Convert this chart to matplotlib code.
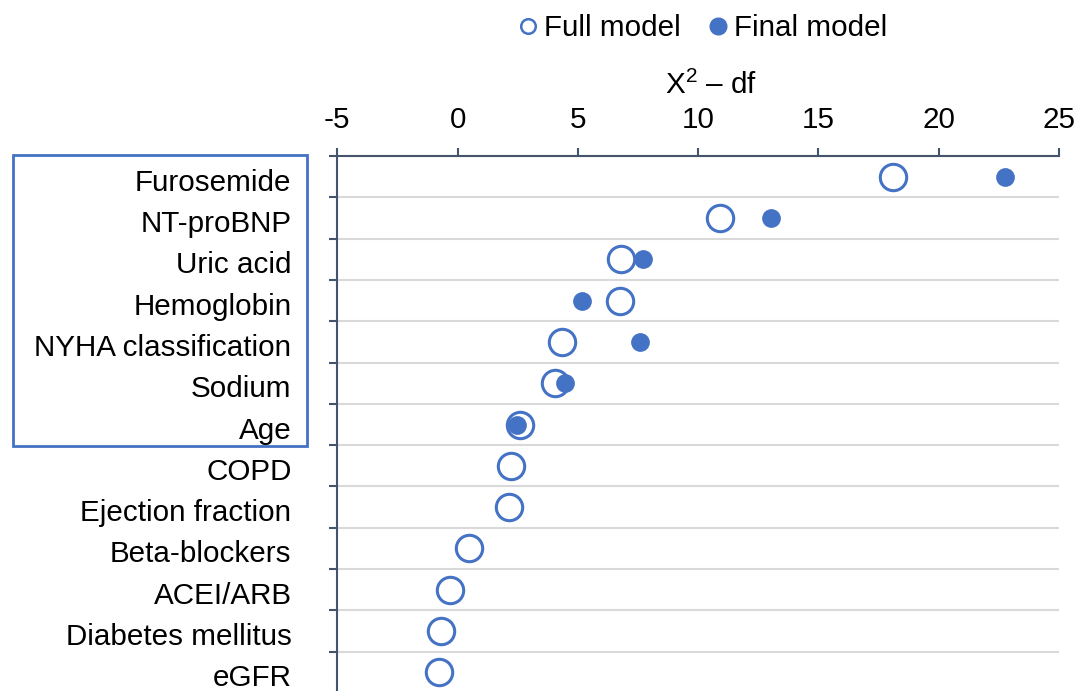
import matplotlib
matplotlib.use("Agg")
import matplotlib.pyplot as plt
import matplotlib.transforms as mtransforms
from matplotlib.lines import Line2D
from matplotlib.patches import Rectangle
import numpy as np

plt.rcParams['font.family'] = ['Liberation Sans', 'DejaVu Sans']
plt.rcParams['mathtext.fontset'] = 'custom'
plt.rcParams['mathtext.rm'] = 'Liberation Sans'

categories = ["Furosemide", "NT-proBNP", "Uric acid", "Hemoglobin", "NYHA classification",
              "Sodium", "Age", "COPD", "Ejection fraction", "Beta-blockers", "ACEI/ARB",
              "Diabetes mellitus", "eGFR"]
full_model = [18.1, 10.92, 6.78, 6.74, 4.36, 4.03, 2.6, 2.24, 2.14, 0.47, -0.32, -0.67, -0.78]
final_categories = ["Furosemide", "NT-proBNP", "Uric acid", "Hemoglobin", "NYHA classification",
                    "Sodium", "Age"]
final_model = [22.76, 13.03, 7.72, 5.16, 7.58, 4.45, 2.45]
x_ticks = [-5, 0, 5, 10, 15, 20, 25]

W, H = 1089, 691
fig = plt.figure(figsize=(W / 100, H / 100), dpi=100)
ax_left, ax_right, ax_top, ax_bottom = 337.3, 1059, 156, 693
ax = fig.add_axes([ax_left / W, 1 - ax_bottom / H, (ax_right - ax_left) / W, (ax_bottom - ax_top) / H])

blue = "#4472C4"
axis_col = "#44546A"
n = len(categories)
y_full = np.arange(n)
y_final = [categories.index(c) for c in final_categories]

ax.scatter(full_model, y_full, s=19**2, facecolor="white", edgecolor=blue, linewidth=2.2, zorder=3)
ax.scatter(final_model, y_final, s=13.5**2, facecolor=blue, edgecolor=blue, linewidth=0, zorder=4)

ax.set_xlim(-5, 25)
ax.set_ylim(n - 0.5, -0.5)
ax.xaxis.tick_top()
ax.xaxis.set_label_position("top")
ax.set_xticks(x_ticks)
ax.set_xticklabels([str(t) for t in x_ticks])
ax.tick_params(axis="x", direction="out", length=6, width=1.5, color=axis_col,
               labelsize=21.3, pad=10)

ax.set_yticks(y_full)
ax.set_yticklabels(categories)
ax.tick_params(axis="y", which="major", length=0, labelsize=21.3, pad=33)
offset = mtransforms.ScaledTranslation(0, -0.03, fig.dpi_scale_trans)
for lbl in ax.get_yticklabels():
    lbl.set_transform(lbl.get_transform() + offset)
ax.set_yticks(np.arange(-0.5, n, 1), minor=True)
ax.tick_params(axis="y", which="minor", direction="out", length=6, width=1.5, color=axis_col)
ax.grid(axis="y", which="minor", color="#D9D9D9", linewidth=1.5, zorder=0)
ax.grid(axis="x", which="major", visible=False)

for s in ["right", "bottom"]:
    ax.spines[s].set_visible(False)
for s in ["top", "left"]:
    ax.spines[s].set_color(axis_col)
    ax.spines[s].set_linewidth(1.5)

fig.text(711 / W, 1 - 85 / H, r"$\mathregular{X^{2}}$ – df", ha="center", va="center", fontsize=21.3)

# box around the retained variables
fig.patches.append(Rectangle((13 / W, 1 - 446 / H), (307 - 13) / W, (446 - 155) / H,
                             transform=fig.transFigure, fill=False, edgecolor=blue, linewidth=2))

handles = [Line2D([], [], linestyle="none", marker="o", markersize=10.5, markerfacecolor="white",
                  markeredgecolor=blue, markeredgewidth=1.8),
           Line2D([], [], linestyle="none", marker="o", markersize=12, markerfacecolor=blue,
                  markeredgecolor=blue)]
fig.legend(handles, ["Full model", "Final model"], loc="center", bbox_to_anchor=(700 / W, 1 - 28 / H),
           ncol=2, frameon=False, fontsize=21.3, handletextpad=0.05, columnspacing=0.75,
           handlelength=1.0, borderpad=0)

fig.savefig("out.png", dpi=100)
